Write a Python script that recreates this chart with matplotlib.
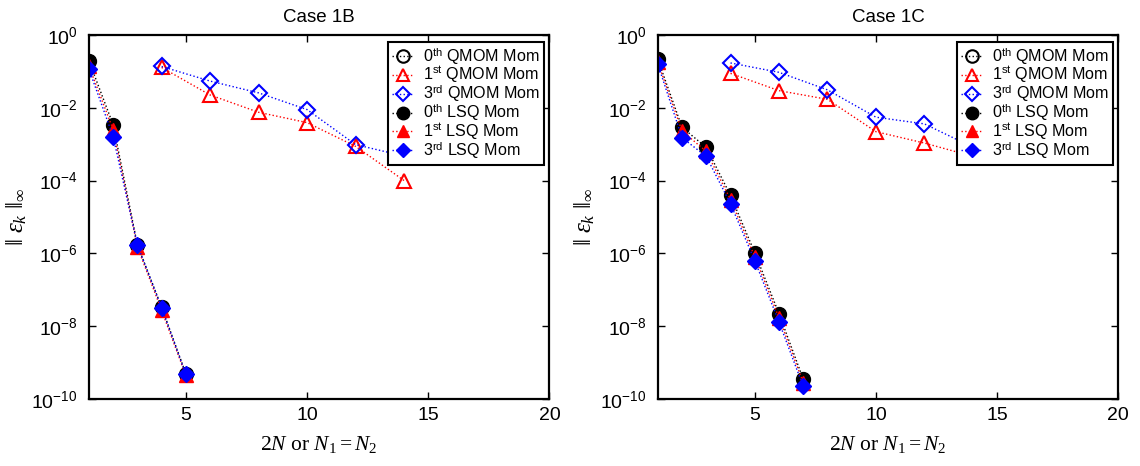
import matplotlib
matplotlib.use("Agg")
import matplotlib.pyplot as plt

plt.rcParams['font.family'] = ['Liberation Sans', 'DejaVu Sans']
plt.rcParams['mathtext.fontset'] = 'custom'
plt.rcParams['mathtext.rm'] = 'Liberation Serif'
plt.rcParams['mathtext.it'] = 'Liberation Serif:italic'
plt.rcParams['mathtext.bf'] = 'Liberation Serif:bold'

# --- Case 1B ---
n_lsq_b = [1, 2, 3, 4, 5]
lsq0_b = [0.195, 3.4e-3, 1.7e-6, 3.3e-8, 4.9e-10]
lsq1_b = [0.14, 2.5e-3, 1.5e-6, 2.7e-8, 4.4e-10]
lsq3_b = [0.115, 1.6e-3, 1.7e-6, 3.2e-8, 4.7e-10]
n_qmom_b = [4, 6, 8, 10, 12, 14]
qmom0_b = []  # zero-order moment error is exact, nothing to show on log axis
qmom1_b = [0.128, 0.0224, 7.5e-3, 3.9e-3, 8.7e-4, 1.0e-4]
qmom3_b = [0.136, 0.054, 0.0256, 8.9e-3, 9.7e-4, 4.7e-4]

# --- Case 1C ---
n_lsq_c = [1, 2, 3, 4, 5, 6, 7]
lsq0_c = [0.216, 2.9e-3, 8.1e-4, 3.9e-5, 1.04e-6, 2.2e-8, 3.5e-10]
lsq1_c = [0.18, 2.3e-3, 6.3e-4, 3.0e-5, 8.1e-7, 1.7e-8, 2.8e-10]
lsq3_c = [0.158, 1.5e-3, 4.6e-4, 2.3e-5, 6.3e-7, 1.3e-8, 2.2e-10]
n_qmom_c = [4, 6, 8, 10, 12, 14]
qmom0_c = []
qmom1_c = [0.088, 0.0295, 0.017, 2.2e-3, 1.07e-3, 4.6e-4]
qmom3_c = [0.17, 0.094, 0.031, 5.5e-3, 3.6e-3, 8.2e-4]

x_ticks = [5, 10, 15, 20]
y_ticks = [1e-10, 1e-8, 1e-6, 1e-4, 1e-2, 1e0]

labels = [r'0$^{\mathdefault{th}}$ QMOM Mom', r'1$^{\mathdefault{st}}$ QMOM Mom',
          r'3$^{\mathdefault{rd}}$ QMOM Mom', r'0$^{\mathdefault{th}}$ LSQ Mom',
          r'1$^{\mathdefault{st}}$ LSQ Mom', r'3$^{\mathdefault{rd}}$ LSQ Mom']


def panel(ax, title, nq, q0, q1, q3, nl, l0, l1, l3):
    nq0 = nq[:len(q0)]
    ax.plot(nq0, q0, 'o:', color='black', mfc='none', ms=10, mew=1.5, lw=1, label=labels[0])
    ax.plot(nq, q1, '^:', color='red', mfc='none', ms=10, mew=1.5, lw=1, label=labels[1])
    ax.plot(nq, q3, 'D:', color='blue', mfc='none', ms=8, mew=1.5, lw=1, label=labels[2])
    ax.plot(nl, l0, 'o:', color='black', ms=10, lw=1, label=labels[3])
    ax.plot(nl, l1, '^:', color='red', ms=10, lw=1, label=labels[4])
    ax.plot(nl, l3, 'D:', color='blue', ms=8, lw=1, label=labels[5])

    ax.set_yscale('log')
    ax.set_xlim(1, 20)
    ax.set_ylim(1e-10, 1)
    ax.set_xticks(x_ticks)
    ax.set_yticks(y_ticks)
    ax.minorticks_off()
    ax.tick_params(direction='in', top=True, right=True, length=5, width=1,
                   labelsize=14)
    ax.tick_params(axis='y', pad=8)
    ax.tick_params(axis='x', pad=6)
    for sp in ax.spines.values():
        sp.set_linewidth(1.6)
    ax.set_title(title, fontsize=13.5, pad=9)
    ax.set_xlabel(r'$2N$ or $N_1 = N_2$', fontsize=15.5,
                  family='Liberation Serif', labelpad=7)
    ax.set_ylabel(r'$\Vert\ \varepsilon_k\ \Vert_\infty$', fontsize=18, labelpad=2)

    leg = ax.legend(loc='upper right', bbox_to_anchor=(1 - 5 / 461, 1 - 7 / 364),
                    borderaxespad=0, fontsize=11.6, fancybox=False, framealpha=1,
                    edgecolor='black', handlelength=1.35, handletextpad=0.6,
                    labelspacing=-0.12, borderpad=0.25, markerscale=0.9)
    leg.get_frame().set_linewidth(1.5)


fig = plt.figure(figsize=(11.4, 4.66), dpi=100)
ax1 = fig.add_axes([0.078, 0.144, 0.404, 0.781])
ax2 = fig.add_axes([0.577, 0.144, 0.404, 0.781])

panel(ax1, 'Case 1B', n_qmom_b, qmom0_b, qmom1_b, qmom3_b,
      n_lsq_b, lsq0_b, lsq1_b, lsq3_b)
panel(ax2, 'Case 1C', n_qmom_c, qmom0_c, qmom1_c, qmom3_c,
      n_lsq_c, lsq0_c, lsq1_c, lsq3_c)

fig.savefig('out.png', dpi=100)
